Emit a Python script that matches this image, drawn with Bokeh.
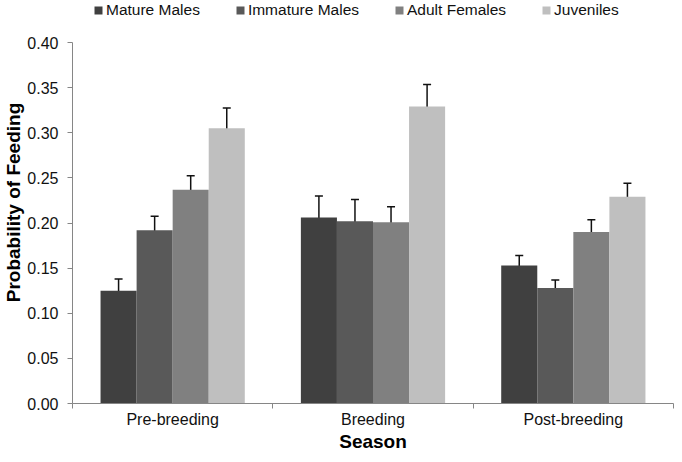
import numpy as np
from bokeh.plotting import figure
from bokeh.models import (ColumnDataSource, Range1d, FixedTicker, NumeralTickFormatter,
                          Whisker, TeeHead, Legend, LegendItem)
from bokeh.embed import file_html
from bokeh.resources import INLINE

seasons = ["Pre-breeding", "Breeding", "Post-breeding"]
groups = ["Mature Males", "Immature Males", "Adult Females", "Juveniles"]
mature_males = [0.125, 0.206, 0.153]
mature_males_err = [0.013, 0.024, 0.011]
immature_males = [0.192, 0.202, 0.128]
immature_males_err = [0.0155, 0.024, 0.009]
adult_females = [0.237, 0.201, 0.190]
adult_females_err = [0.0155, 0.017, 0.0135]
juveniles = [0.305, 0.329, 0.229]
juveniles_err = [0.0225, 0.0245, 0.015]
y_ticks = [0.0, 0.05, 0.10, 0.15, 0.20, 0.25, 0.30, 0.35, 0.40]

series = [mature_males, immature_males, adult_females, juveniles]
errors = [mature_males_err, immature_males_err, adult_females_err, juveniles_err]
colors = ["#404040", "#595959", "#808080", "#bfbfbf"]
bar_w = 0.18
offsets = [-0.27, -0.09, 0.09, 0.27]

FONT = "Liberation Sans"
AXIS_COLOR = "#868686"
Y_AXIS_MAX = 0.40
Y_VIEW_MAX = 0.4455  # extra headroom inside the frame for the legend strip

p = figure(width=674, height=454, output_backend="svg", toolbar_location=None,
           x_range=Range1d(0, len(seasons)), y_range=Range1d(0, Y_VIEW_MAX),
           min_border_left=72, min_border_right=1, min_border_top=1, min_border_bottom=10)
p.outline_line_color = None
p.xgrid.visible = False
p.ygrid.visible = False
p.background_fill_color = "white"
p.border_fill_color = "white"

centers = np.arange(len(seasons)) + 0.5
renderers = []
for vals, errs, col, off in zip(series, errors, colors, offsets):
    v = np.array(vals)
    e = np.array(errs)
    src = ColumnDataSource(dict(x=centers + off, top=v, upper=v + e, lower=v - e))
    r = p.vbar(x="x", top="top", width=bar_w, bottom=0, source=src,
               fill_color=col, line_color=None)
    renderers.append(r)
    w = Whisker(source=src, base="x", upper="upper", lower="lower",
                line_color="#111111", line_width=1.5,
                upper_head=TeeHead(size=8, line_color="#111111", line_width=1.5),
                lower_head=TeeHead(size=8, line_color="#111111", line_width=1.5))
    p.add_layout(w)

# x axis
xa = p.xaxis[0]
xa.ticker = FixedTicker(ticks=list(centers), minor_ticks=list(range(len(seasons) + 1)))
xa.major_label_overrides = {float(c): s for c, s in zip(centers, seasons)}
xa.major_tick_out = 0
xa.major_tick_in = 0
xa.minor_tick_out = 5
xa.minor_tick_in = 0
xa.minor_tick_line_color = AXIS_COLOR
xa.axis_line_color = AXIS_COLOR
xa.major_label_text_font = FONT
xa.major_label_text_font_size = "16px"
xa.major_label_text_color = "#111111"
xa.major_label_standoff = 2
xa.axis_label = "Season"
xa.axis_label_text_font = FONT
xa.axis_label_text_font_size = "19px"
xa.axis_label_text_font_style = "bold"
xa.axis_label_text_color = "#000000"
xa.axis_label_standoff = 0

# y axis
ya = p.yaxis[0]
ya.ticker = FixedTicker(ticks=y_ticks)
ya.bounds = (0, Y_AXIS_MAX)
ya.formatter = NumeralTickFormatter(format="0.00")
ya.major_tick_out = 5
ya.major_tick_in = 0
ya.minor_tick_out = 0
ya.minor_tick_in = 0
ya.major_tick_line_color = AXIS_COLOR
ya.axis_line_color = AXIS_COLOR
ya.major_label_text_font = FONT
ya.major_label_text_font_size = "16px"
ya.major_label_text_color = "#111111"
ya.major_label_standoff = 9
ya.axis_label = "Probability of Feeding"
ya.axis_label_text_font = FONT
ya.axis_label_text_font_size = "19px"
ya.axis_label_text_font_style = "bold"
ya.axis_label_text_color = "#000000"
ya.axis_label_standoff = 0

legend = Legend(items=[LegendItem(label=g, renderers=[r]) for g, r in zip(groups, renderers)],
                orientation="horizontal", location=(21, 384),
                glyph_width=10, glyph_height=10, label_standoff=3, spacing=35,
                padding=0, margin=0, border_line_color=None, background_fill_alpha=0,
                label_text_font=FONT, label_text_font_size="15.5px",
                label_text_color="#111111")
p.add_layout(legend, "center")

open("out.html", "w").write(file_html(p, INLINE))
